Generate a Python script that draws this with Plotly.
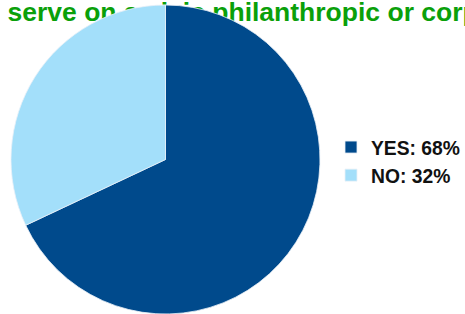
import plotly.graph_objects as go

W, H = 465, 314

labels = ["YES", "NO"]
values = [68, 32]
colors = ["#004a8c", "#a3dffa"]
title_text = "serve on a civic philanthropic or corporate board?"

legend_labels = [f"{l}: {v}%" for l, v in zip(labels, values)]

fig = go.Figure()

# Title drawn as a text trace so the pie sits on top of it
fig.add_trace(go.Scatter(
    x=[7.5 / W], y=[1 - 14 / H],
    mode="text",
    text=[title_text],
    textposition="middle right",
    textfont=dict(family="Liberation Sans", size=26.5, color="#0aa00a", weight="bold"),
    showlegend=False,
    hoverinfo="skip",
    cliponaxis=False,
))

fig.add_trace(go.Pie(
    labels=legend_labels,
    values=values,
    sort=False,
    direction="clockwise",
    rotation=0,
    textinfo="none",
    marker=dict(colors=colors, line=dict(color="#e8f0f8", width=0.8)),
    domain=dict(x=[10 / W, 321 / W], y=[1 - 314 / H, 1 - 5 / H]),
    hoverinfo="label",
))

fig.update_layout(
    width=W, height=H,
    margin=dict(l=0, r=0, t=0, b=0, pad=0, autoexpand=False),
    paper_bgcolor="white",
    plot_bgcolor="white",
    xaxis=dict(visible=False, range=[0, 1], domain=[0, 1], fixedrange=True),
    yaxis=dict(visible=False, range=[0, 1], domain=[0, 1], fixedrange=True),
    showlegend=True,
    legend=dict(
        x=331 / W, xanchor="left",
        y=1 - 161.5 / H, yanchor="middle",
        font=dict(family="Liberation Sans", size=19.3, color="#111111", weight="bold"),
        bgcolor="rgba(0,0,0,0)",
    ),
)

fig.write_html(
    "out.html",
    config={"displayModeBar": False},
    post_script="document.body.style.margin='0';document.body.style.overflow='hidden';",
)
